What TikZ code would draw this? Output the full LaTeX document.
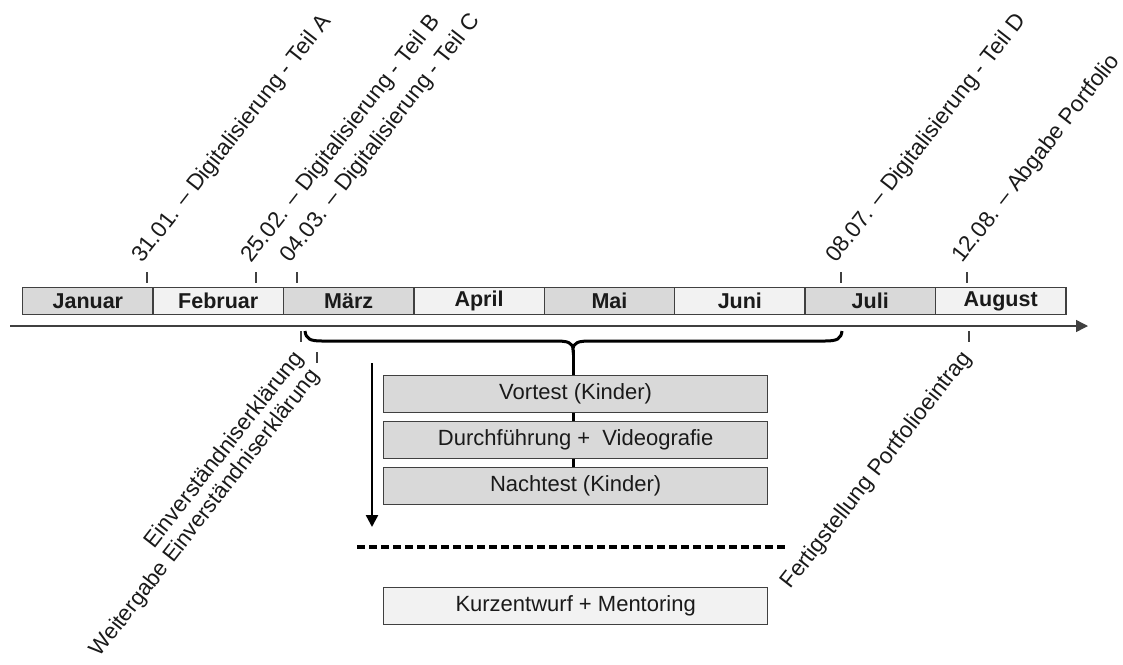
\documentclass[tikz,border=0pt]{standalone}
\usepackage{fontspec}
\setmainfont{Liberation Sans}
\usetikzlibrary{arrows.meta,backgrounds}
\definecolor{boxgray}{HTML}{D9D9D9}
\definecolor{boxlight}{HTML}{F2F2F2}
\definecolor{edge}{HTML}{404040}
\definecolor{ink}{HTML}{1A1A1A}
\begin{document}
\begin{tikzpicture}[x=1pt,y=-1pt,
  month/.style={draw=edge,line width=1.3pt,minimum width=130.4pt,minimum height=27pt,
    inner sep=0pt,anchor=north west,text=ink,font=\fontsize{21.5}{22}\selectfont\bfseries},
  monthA/.style={month,fill=boxgray},
  monthB/.style={month,fill=boxlight},
  phase/.style={draw=edge,line width=1.3pt,fill=boxgray,minimum width=384pt,minimum height=37pt,
    inner sep=0pt,anchor=north west,text=ink,font=\fontsize{22}{24}\selectfont},
  phaselight/.style={phase,fill=boxlight},
  tickline/.style={draw=edge,line width=1.1pt},
  uplabel/.style={rotate=52,anchor=base west,inner sep=0pt,text=ink,font=\fontsize{22.6}{24}\selectfont},
  downlabel/.style={rotate=52,anchor=base east,inner sep=0pt,text=ink,font=\fontsize{22.6}{24}\selectfont},
  axisline/.style={draw=edge,line width=1.4pt,-{Triangle[length=12pt,width=12pt]}},
  bracel/.style={draw=black,line width=3pt},
  downarrow/.style={draw=black,line width=2.4pt,-{Triangle[length=12pt,width=12pt]}},
  sepline/.style={draw=black,line width=3.4pt,dash pattern=on 8pt off 4pt},
]
\useasboundingbox (0,0) rectangle (1123,664);

% months
\node[monthA] (jan) at (22,287) {Januar};
\node[monthB] (feb) at (152.4,287) {Februar};
\node[monthA] (mar) at (282.8,287) {März};
\node[monthB] (apr) at (413.2,287) {April};
\node[monthA] (mai) at (543.6,287) {Mai};
\node[monthB] (jun) at (674,287) {Juni};
\node[monthA] (jul) at (804.4,287) {Juli};
\node[monthB] (aug) at (934.8,287) {August};

% axis
\coordinate (axL) at (10,326);
\coordinate (axR) at (1088,326);
\draw[axisline] (axL) -- (axR);

% upper ticks
\coordinate (uA1) at (147,272); \coordinate (uA2) at (147,283);
\coordinate (uB1) at (256,272); \coordinate (uB2) at (256,283);
\coordinate (uC1) at (297,272); \coordinate (uC2) at (297,283);
\coordinate (uD1) at (841,272); \coordinate (uD2) at (841,283);
\coordinate (uE1) at (967,272); \coordinate (uE2) at (967,283);
\draw[tickline] (uA1) -- (uA2);
\draw[tickline] (uB1) -- (uB2);
\draw[tickline] (uC1) -- (uC2);
\draw[tickline] (uD1) -- (uD2);
\draw[tickline] (uE1) -- (uE2);

\node[uplabel] (labA) at (142,264) {31.01. – Digitalisierung - Teil A};
\node[uplabel] (labB) at (251,264) {25.02. – Digitalisierung - Teil B};
\node[uplabel] (labC) at (290,264) {04.03. – Digitalisierung - Teil C};
\node[uplabel] (labD) at (836,264) {08.07. – Digitalisierung - Teil D};
\node[uplabel] (labE) at (962,264) {12.08. – Abgabe Portfolio};

% lower ticks
\coordinate (lA1) at (301,331); \coordinate (lA2) at (301,342);
\coordinate (lB1) at (317,352); \coordinate (lB2) at (317,363);
\coordinate (lC1) at (969,331); \coordinate (lC2) at (969,342);
\draw[tickline] (lA1) -- (lA2);
\draw[tickline] (lB1) -- (lB2);
\draw[tickline] (lC1) -- (lC2);

\node[downlabel] (labEin) at (304,358) {Einverständniserklärung};
\node[downlabel,font=\fontsize{22.2}{24}\selectfont] (labWei) at (320,376) {Weitergabe Einverständniserklärung};
\node[downlabel] (labFer) at (972,358) {Fertigstellung Portfolioeintrag};

% phase boxes
\node[phase] (vor) at (383,375) {Vortest (Kinder)};
\node[phase] (dur) at (383,421) {Durchführung +\ \ Videografie\hspace{22pt}};
\node[phase] (nach) at (383,467) {Nachtest (Kinder)};
\node[phaselight] (kurz) at (383,587) {Kurzentwurf + Mentoring\hspace{34pt}};

% brace
\coordinate (brL) at (305,331);
\coordinate (brR) at (842,331);
\coordinate (brM) at (573,350);
\draw[bracel] (brL) .. controls (306,339) and (310,341) .. (322,341) -- (555,341)
  .. controls (567,341) and (573,342) .. (brM)
  .. controls (573,342) and (579,341) .. (591,341) -- (825,341)
  .. controls (837,341) and (841,339) .. (brR);
\begin{pgfonlayer}{background}
\draw[bracel] (brM) -- (nach.north -| brM);
\end{pgfonlayer}

% time arrow
\coordinate (dA) at (372,363);
\coordinate (dB) at (372,527);
\draw[downarrow] (dA) -- (dB);

% dashed separator
\coordinate (dsL) at (357,547);
\coordinate (dsR) at (788,547);
\draw[sepline] (dsL) -- (dsR);
\end{tikzpicture}
\end{document}
